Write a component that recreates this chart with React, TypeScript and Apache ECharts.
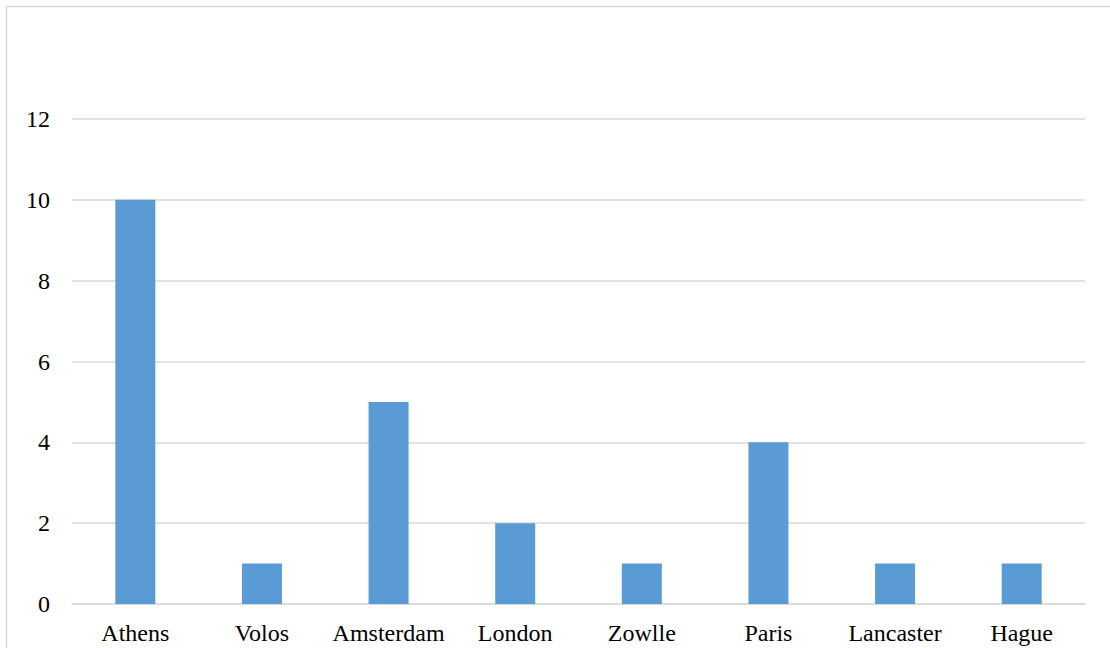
import React, { useEffect, useRef } from "react";
import * as echarts from "echarts";

const cities = ["Athens", "Volos", "Amsterdam", "London", "Zowlle", "Paris", "Lancaster", "Hague"];
const counts = [10, 1, 5, 2, 1, 4, 1, 1];
const yTicks = { min: 0, max: 12, interval: 2 };

const FONT = "'Liberation Serif', 'Times New Roman', serif";

export default function App() {
  const ref = useRef<HTMLDivElement>(null);

  useEffect(() => {
    document.body.style.margin = "0";
    const chart = echarts.init(ref.current!, null, { renderer: "svg" });
    chart.setOption({
      animation: false,
      backgroundColor: "#ffffff",
      textStyle: { fontFamily: FONT },
      graphic: [
        {
          type: "rect",
          shape: { x: 6.5, y: 6.5, width: 1300, height: 900 },
          style: { fill: "none", stroke: "#d9d9d9", lineWidth: 1.5 },
          silent: true,
          z: -1,
        },
      ],
      grid: { left: 72, right: 25, top: 119, bottom: 44, containLabel: false },
      xAxis: {
        type: "category",
        data: cities,
        axisLine: { show: true, lineStyle: { color: "#d9d9d9", width: 1.5 } },
        axisTick: { show: false },
        axisLabel: { color: "#000", fontFamily: FONT, fontSize: 24, margin: 17, interval: 0 },
      },
      yAxis: {
        type: "value",
        min: yTicks.min,
        max: yTicks.max,
        interval: yTicks.interval,
        axisLine: { show: false },
        axisTick: { show: false },
        splitLine: { lineStyle: { color: "#d9d9d9", width: 1.5 } },
        axisLabel: { color: "#000", fontFamily: FONT, fontSize: 24, margin: 22 },
      },
      series: [
        {
          type: "bar",
          data: counts,
          barWidth: 40,
          itemStyle: { color: "#5b9bd5" },
        },
      ],
    });
    return () => chart.dispose();
  }, []);

  return <div ref={ref} style={{ width: 1110, height: 648 }} />;
}
